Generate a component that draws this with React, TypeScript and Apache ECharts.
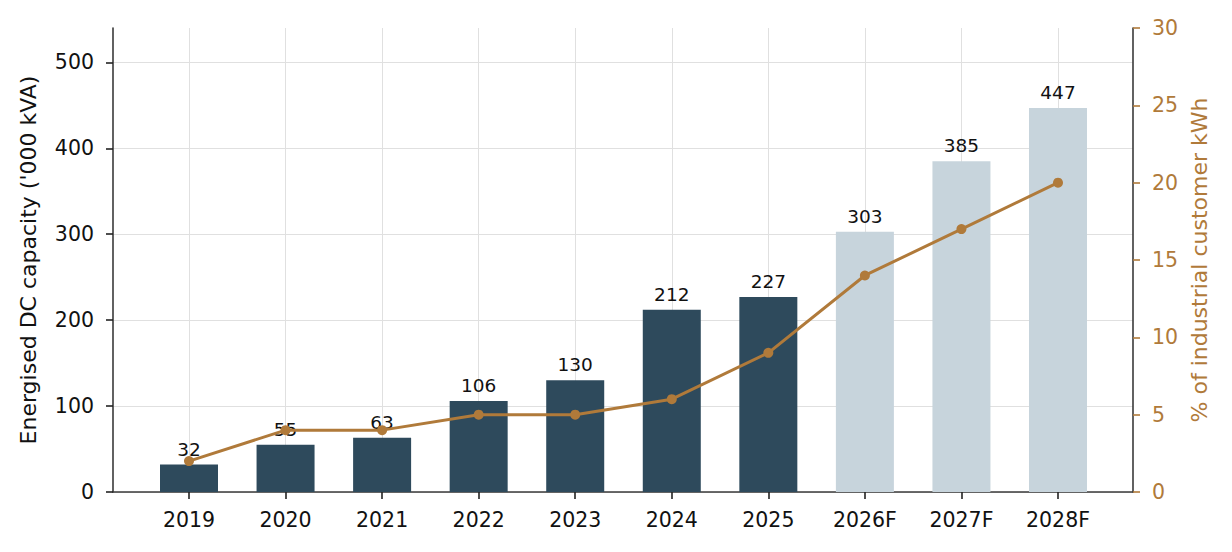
import React, { useEffect, useRef } from "react";
import * as echarts from "echarts";

const categories = ["2019", "2020", "2021", "2022", "2023", "2024", "2025", "2026F", "2027F", "2028F"];
const capacity = [32, 55, 63, 106, 130, 212, 227, 303, 385, 447];
const industrialShare = [2, 4, 4, 5, 5, 6, 9, 14, 17, 20];
const leftTicks = [0, 100, 200, 300, 400, 500];
const forecastStart = 7;
const leftMax = 540;
const leftInterval = 100;
const rightMax = 30;
const rightInterval = 5;

const FONT = "DejaVu Sans";
const DARK = "#2E4A5C";
const LIGHT = "#C7D4DC";
const BROWN = "#B07A3A";
const AXIS = "#3a3a3a";
const GRID = "#e0e0e0";

export default function App() {
  const ref = useRef<HTMLDivElement>(null);
  useEffect(() => {
    if (!ref.current) return;
    const chart = echarts.init(ref.current, undefined, { renderer: "svg" });
    const option: any = {
      animation: false,
      backgroundColor: "#ffffff",
      textStyle: { fontFamily: FONT },
      grid: [
        { left: 113, right: 99, top: 28, bottom: 60, outerBoundsMode: "none" },
        { left: 189, right: 174, top: 28, bottom: 60, outerBoundsMode: "none" },
      ],
      xAxis: [
        {
          type: "value",
          gridIndex: 0,
          min: 0,
          max: 1,
          axisLine: { show: true, onZero: false, lineStyle: { color: AXIS, width: 1.6 } },
          axisTick: { show: false },
          axisLabel: { show: false },
          splitLine: { show: false },
        },
        {
          type: "category",
          gridIndex: 1,
          data: categories,
          boundaryGap: false,
          axisLine: { show: false },
          axisTick: { show: true, interval: 0, length: 7, lineStyle: { color: "#222", width: 1.6 } },
          axisLabel: { interval: 0, margin: 17, color: "#111", fontSize: 20.5, fontFamily: FONT },
          splitLine: { show: true, interval: 0, lineStyle: { color: GRID, width: 1 } },
        },
      ],
      yAxis: [
        {
          type: "value",
          gridIndex: 0,
          position: "left",
          min: 0,
          max: leftMax,
          interval: leftInterval,
          name: "Energised DC capacity ('000 kVA)",
          nameLocation: "middle",
          nameGap: 74,
          nameTextStyle: { color: "#111", fontSize: 22, fontFamily: FONT },
          axisLine: { show: true, lineStyle: { color: AXIS, width: 1.6 } },
          axisTick: { show: true, customValues: leftTicks, length: 7, lineStyle: { color: "#222", width: 1.6 } },
          axisLabel: { customValues: leftTicks, margin: 19, color: "#111", fontSize: 20.5, fontFamily: FONT },
          splitLine: { show: true, lineStyle: { color: GRID, width: 1 } },
        },
        {
          type: "value",
          gridIndex: 0,
          position: "right",
          min: 0,
          max: rightMax,
          interval: rightInterval,
          name: "% of industrial customer kWh",
          nameLocation: "middle",
          nameGap: 54,
          nameTextStyle: { color: BROWN, fontSize: 22, fontFamily: FONT },
          axisLine: { show: true, lineStyle: { color: AXIS, width: 1.6 } },
          axisTick: { show: true, length: 7, lineStyle: { color: BROWN, width: 1.6 } },
          axisLabel: { margin: 19, color: BROWN, fontSize: 20.5, fontFamily: FONT },
          splitLine: { show: false },
        },
        { type: "value", gridIndex: 1, min: 0, max: leftMax, interval: leftInterval, show: false },
        { type: "value", gridIndex: 1, min: 0, max: rightMax, interval: rightInterval, show: false },
      ],
      series: [
        {
          type: "bar",
          xAxisIndex: 1,
          yAxisIndex: 2,
          barWidth: 58,
          clip: false,
          z: 2,
          data: capacity.map((v, i) => ({
            value: v,
            itemStyle: { color: i >= forecastStart ? LIGHT : DARK },
          })),
          label: {
            show: true,
            position: "top",
            distance: 6,
            color: "#111",
            fontSize: 18.5,
            fontFamily: FONT,
          },
        },
        {
          type: "line",
          xAxisIndex: 1,
          yAxisIndex: 3,
          data: industrialShare,
          clip: false,
          z: 5,
          symbol: "circle",
          symbolSize: 10,
          lineStyle: { color: BROWN, width: 3 },
          itemStyle: { color: BROWN },
        },
      ],
    };
    chart.setOption(option);
    return () => chart.dispose();
  }, []);
  return (
    <div
      ref={ref}
      style={{ position: "fixed", left: 0, top: 0, width: 1232, height: 552 }}
    />
  );
}
